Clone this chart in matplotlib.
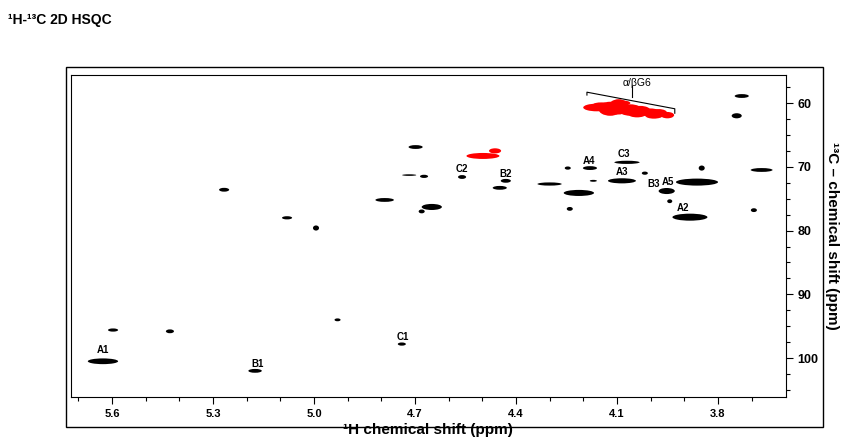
import matplotlib
matplotlib.use("Agg")
import matplotlib.pyplot as plt
from matplotlib.patches import Ellipse, Rectangle

plt.rcParams['font.family'] = ['Liberation Sans', 'DejaVu Sans']

# cross peaks: 1H shift, 13C shift, width in 1H (ppm), width in 13C (ppm)
peak_h = [5.627, 5.597, 5.428, 5.175, 4.739, 4.930, 5.267, 5.080, 4.994, 4.790,
          4.717, 4.673, 4.650, 4.680, 4.698, 4.560, 4.430, 4.448, 4.300, 4.246,
          4.180, 4.170, 4.213, 4.240, 4.070, 4.085, 4.017, 3.952, 3.943, 3.862,
          3.848, 3.883, 3.729, 3.744, 3.670, 3.693]
peak_c = [100.5, 95.6, 95.8, 102.0, 97.8, 94.0, 73.6, 78.0, 79.6, 75.2,
          71.3, 71.5, 76.3, 77.0, 66.9, 71.6, 72.2, 73.3, 72.7, 70.2,
          70.2, 72.2, 74.1, 76.6, 69.3, 72.2, 71.0, 73.8, 75.4, 72.4,
          70.2, 77.9, 58.9, 62.0, 70.5, 76.8]
peak_wh = [0.090, 0.030, 0.024, 0.040, 0.024, 0.018, 0.030, 0.030, 0.018, 0.055,
           0.042, 0.024, 0.060, 0.018, 0.042, 0.024, 0.030, 0.042, 0.072, 0.018,
           0.042, 0.021, 0.090, 0.018, 0.075, 0.083, 0.018, 0.048, 0.015, 0.125,
           0.018, 0.104, 0.042, 0.030, 0.065, 0.018]
peak_wc = [0.9, 0.5, 0.6, 0.6, 0.5, 0.45, 0.6, 0.5, 0.8, 0.6,
           0.25, 0.5, 0.95, 0.6, 0.6, 0.6, 0.6, 0.6, 0.5, 0.5,
           0.6, 0.3, 0.95, 0.6, 0.5, 0.8, 0.5, 0.95, 0.6, 1.1,
           0.8, 1.1, 0.6, 0.8, 0.6, 0.6]

# G6 cluster and the two small peaks near 4.5 ppm (red)
g6_h = [4.160, 4.120, 4.095, 4.060, 4.030, 4.000, 3.975, 3.950, 4.145, 4.085,
        4.040, 3.990, 4.498, 4.462]
g6_c = [60.7, 60.9, 60.6, 61.1, 61.2, 61.5, 61.6, 61.9, 60.2, 60.0,
        61.8, 62.0, 68.3, 67.5]
g6_wh = [0.080, 0.070, 0.060, 0.070, 0.060, 0.060, 0.050, 0.040, 0.050, 0.050,
         0.050, 0.050, 0.098, 0.036]
g6_wc = [1.2, 2.2, 2.4, 1.8, 1.5, 1.3, 1.3, 1.0, 0.6, 0.8,
         0.9, 0.9, 0.94, 0.8]

# assignments
lab_text = ['A1', 'B1', 'C1', 'C2', 'B2', 'A4', 'C3', 'A3', 'B3', 'A5', 'A2']
lab_h = [5.627, 5.169, 4.736, 4.560, 4.430, 4.183, 4.079, 4.085, 3.990, 3.949, 3.904]
lab_c = [98.7, 100.9, 96.7, 70.4, 71.1, 69.1, 68.0, 70.8, 72.7, 72.4, 76.5]

fig = plt.figure(figsize=(8.45, 4.41), dpi=100)
ax = fig.add_axes([0.084, 0.0998, 0.846, 0.7302])

for h, c, wh, wc in zip(peak_h, peak_c, peak_wh, peak_wc):
    ax.add_patch(Ellipse((h, c), wh, wc, color='black', lw=0))
for h, c, wh, wc in zip(g6_h, g6_c, g6_wh, g6_wc):
    ax.add_patch(Ellipse((h, c), wh, wc, color='red', lw=0))

for t, h, c in zip(lab_text, lab_h, lab_c):
    ax.text(h, c, t, fontsize=7, fontweight='bold', ha='center', va='center')

# bracket over the G6 cluster
ax.plot([4.189, 4.189, 3.928, 3.928], [58.75, 58.3, 60.9, 61.6], color='black', lw=0.8)
ax.plot([4.055, 4.055], [57.3, 59.0], color='black', lw=0.8)
ax.text(4.040, 56.9, 'α/βG6', fontsize=7.5, ha='center', va='center')

ax.set_xlim(5.722, 3.598)
ax.set_ylim(106.1, 55.6)
ax.set_xticks([5.6, 5.3, 5.0, 4.7, 4.4, 4.1, 3.8])
ax.set_xticks([5.7, 5.5, 5.4, 5.2, 5.1, 4.9, 4.8, 4.6, 4.5, 4.3, 4.2, 4.0, 3.9, 3.7], minor=True)
ax.set_xticklabels(['5.6', '5.3', '5.0', '4.7', '4.4', '4.1', '3.8'], fontsize=8, fontweight='bold')
ax.set_yticks([60, 70, 80, 90, 100])
ax.set_yticks([57.5, 62.5, 65, 67.5, 72.5, 75, 77.5, 82.5, 85, 87.5, 92.5, 95, 97.5, 102.5, 105], minor=True)
ax.set_yticklabels(['60', '70', '80', '90', '100'], fontsize=9, fontweight='bold')
ax.yaxis.tick_right()
ax.yaxis.set_label_position('right')
ax.tick_params(which='major', length=5, width=0.8)
ax.tick_params(which='minor', length=3, width=0.8)
ax.set_xlabel('¹H chemical shift (ppm)', fontsize=11, fontweight='bold', labelpad=3)
ax.set_ylabel('¹³C – chemical shift (ppm)', fontsize=11, fontweight='bold',
              rotation=-90, labelpad=15)
for s in ax.spines.values():
    s.set_linewidth(0.8)

# outer frame
fig.patches.append(Rectangle((66 / 845, 1 - 427 / 441), 757 / 845, 360 / 441,
                             transform=fig.transFigure, fill=False, lw=1, color='black'))

fig.text(8 / 845, 1 - 20 / 441, '¹H-¹³C 2D HSQC', fontsize=10, fontweight='bold', va='center')

plt.savefig('out.png', dpi=100)
